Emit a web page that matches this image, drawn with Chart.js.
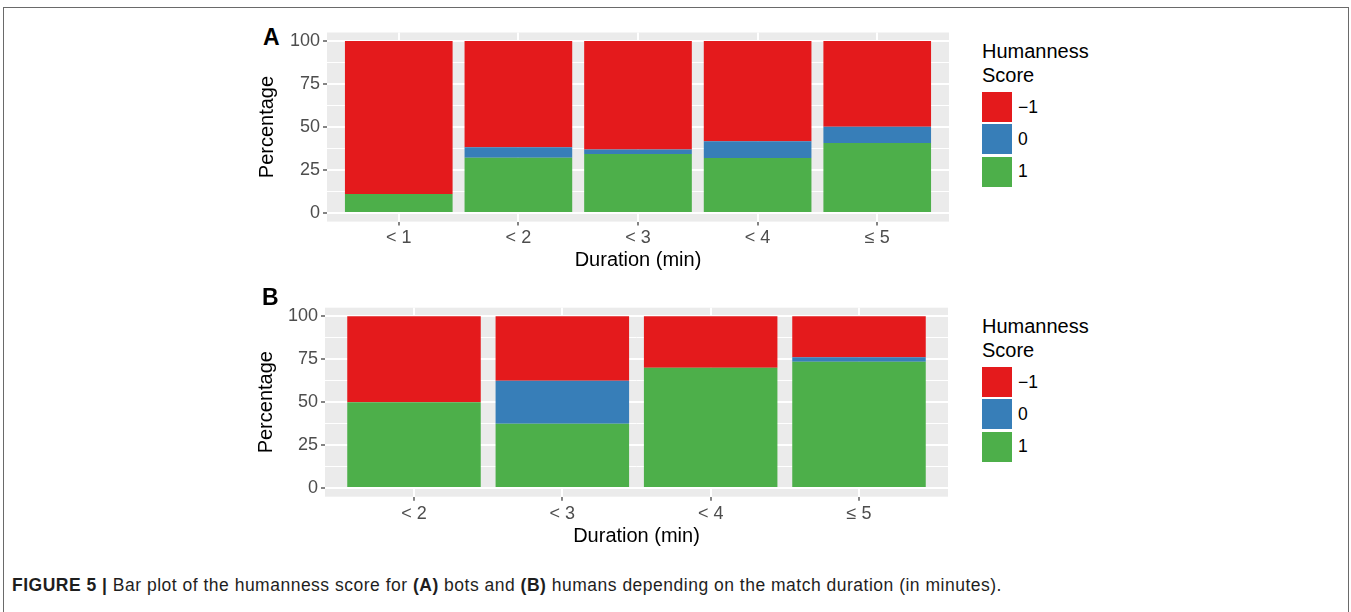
<!DOCTYPE html>
<html>
<head>
<meta charset="utf-8">
<script src="https://cdn.jsdelivr.net/npm/chart.js@4.4.1/dist/chart.umd.min.js"></script>
<style>
  html, body { margin: 0; padding: 0; background: #fff; }
  body { position: relative; width: 1351px; height: 612px; overflow: hidden;
         font-family: "Liberation Sans", Arial, Helvetica, sans-serif; }
  .frame { position: absolute; left: 3px; top: 7px; width: 1344px; height: 700px;
           border: 1px solid #6a6a6a; border-bottom: none; }
  canvas { position: absolute; }
  #chartA { left: 240px; top: 20px; }
  #chartB { left: 240px; top: 295px; }
  .tag { position: absolute; font-weight: bold; font-size: 23px; line-height: 23px; color: #000; }
  .legend { position: absolute; left: 982px; color: #000; }
  .legend .ttl { font-size: 20px; line-height: 24px; }
  .legend .keys { margin-top: 5.5px; }
  .legend .key { display: flex; align-items: center; height: 30px; margin-bottom: 2.4px; }
  .legend .swatch { display: inline-block; width: 30px; height: 30px; }
  .legend .lab { font-size: 17.5px; margin-left: 6px; }
  .caption { position: absolute; left: 12px; top: 577px; font-size: 17.5px; line-height: 17.5px;
             letter-spacing: 0.5px; color: #1e1e1e; white-space: nowrap; }
</style>
</head>
<body>
<div class="frame"></div>

<div class="tag" style="left:263px; top:26px;">A</div>
<canvas id="chartA" width="720" height="265"></canvas>
<div class="legend" id="legendA" style="top:38.5px;">
  <div class="ttl">Humanness<br>Score</div>
  <div class="keys"></div>
</div>

<div class="tag" style="left:262px; top:286px;">B</div>
<canvas id="chartB" width="720" height="265"></canvas>
<div class="legend" id="legendB" style="top:313.5px;">
  <div class="ttl">Humanness<br>Score</div>
  <div class="keys"></div>
</div>

<div class="caption"><b>FIGURE 5 |</b> Bar plot of the humanness score for <b>(A)</b> bots and <b>(B)</b> humans depending on the match duration (in minutes).</div>

<script>
// Match duration classes
const durationsBots = ['< 1', '< 2', '< 3', '< 4', '\u2264 5'];
const durationsHumans = ['< 2', '< 3', '< 4', '\u2264 5'];

// Share of matches (%) per humanness score, bots
const botsScorePos = [11.1, 32.2, 34.3, 32.0, 40.7];   // score 1
const botsScoreZero = [0, 6.0, 2.7, 9.7, 9.5];          // score 0
const botsScoreNeg = [88.9, 61.8, 63.0, 58.3, 49.8];    // score -1

// Share of matches (%) per humanness score, humans
const humansScorePos = [50, 37.5, 70, 73.6];
const humansScoreZero = [0, 25, 0, 2.6];
const humansScoreNeg = [50, 37.5, 30, 23.8];

// Legend labels, in stacking order (bottom to top)
const scoreLabels = ['1', '0', '\u22121'];
const scoreColors = ['#4DAF4A', '#377EB8', '#E41A1C'];

// Y axis breaks
const yBreaks = [0, 25, 50, 75, 100];
const yMinorBreaks = [12.5, 37.5, 62.5, 87.5];

const FONT = '"Liberation Sans", Arial, Helvetica, sans-serif';

// Grey plotting panel behind the bars
const panelBackground = {
  id: 'panelBackground',
  beforeDraw(chart, args, opts) {
    const { ctx, chartArea: a } = chart;
    ctx.save();
    ctx.fillStyle = opts.color;
    ctx.fillRect(a.left, a.top, a.right - a.left, a.bottom - a.top);
    ctx.restore();
  }
};

// Legend rendered as HTML next to each chart, built from the datasets
const htmlLegend = {
  id: 'htmlLegend',
  afterUpdate(chart, args, opts) {
    const list = document.querySelector('#' + opts.containerID + ' .keys');
    list.innerHTML = '';
    chart.data.datasets.slice().reverse().forEach(ds => {
      const row = document.createElement('div');
      row.className = 'key';
      const sw = document.createElement('span');
      sw.className = 'swatch';
      sw.style.background = ds.backgroundColor;
      const tx = document.createElement('span');
      tx.className = 'lab';
      tx.textContent = ds.label;
      row.append(sw, tx);
      list.appendChild(row);
    });
  }
};

function makeChart(canvasId, legendId, categories, series, g) {
  const gridValues = [...yBreaks, ...yMinorBreaks].sort((a, b) => a - b);
  const datasets = series.map((values, k) => ({
    label: scoreLabels[k],
    data: values.map((v, i) => ({ x: i + 1, y: v })),
    backgroundColor: scoreColors[k],
    borderWidth: 0,
    stack: 'score',
    barPercentage: 0.9,
    categoryPercentage: 1
  }));

  return new Chart(document.getElementById(canvasId), {
    type: 'bar',
    data: { datasets },
    plugins: [panelBackground, htmlLegend],
    options: {
      responsive: false,
      animation: false,
      devicePixelRatio: 1,
      layout: { padding: { left: 0, top: g.padTop, right: g.padRight, bottom: 0 } },
      plugins: {
        legend: { display: false },
        tooltip: { enabled: false },
        panelBackground: { color: '#EBEBEB' },
        htmlLegend: { containerID: legendId }
      },
      scales: {
        x: {
          type: 'linear',
          min: 0.4,
          max: categories.length + 0.6,
          offset: false,
          afterBuildTicks: s => { s.ticks = categories.map((_, i) => ({ value: i + 1 })); },
          afterFit: s => { s.height = g.xHeight; s.paddingLeft = 0; s.paddingRight = 0; },
          ticks: {
            callback: v => categories[v - 1],
            color: '#4D4D4D',
            font: { family: FONT, size: 18 },
            padding: g.xTickPad,
            maxRotation: 0,
            autoSkip: false
          },
          grid: {
            offset: false,
            color: '#FFFFFF',
            lineWidth: 2,
            tickColor: '#333333',
            tickLength: 4,
            tickWidth: 1.2
          },
          border: { display: false },
          title: {
            display: true,
            text: 'Duration (min)',
            color: '#000000',
            font: { family: FONT, size: 20 },
            padding: { top: 0, bottom: g.xTitlePad }
          }
        },
        y: {
          stacked: true,
          min: -5,
          max: 105,
          afterBuildTicks: s => { s.ticks = gridValues.map(v => ({ value: v })); },
          afterFit: s => { s.width = g.yWidth; s.paddingTop = 0; s.paddingBottom = 0; },
          ticks: {
            callback: v => (yBreaks.includes(v) ? String(v) : ''),
            color: '#4D4D4D',
            font: { family: FONT, size: 18 },
            padding: 3,
            autoSkip: false
          },
          grid: {
            color: '#FFFFFF',
            lineWidth: c => (yBreaks.includes(c.tick.value) ? 2 : 1),
            tickColor: c => (yBreaks.includes(c.tick.value) ? '#333333' : 'rgba(0,0,0,0)'),
            tickLength: 4,
            tickWidth: 1.2
          },
          border: { display: false },
          title: {
            display: true,
            text: 'Percentage',
            color: '#000000',
            font: { family: FONT, size: 20 },
            padding: { top: g.yTitlePad, bottom: 0 }
          }
        }
      }
    }
  });
}

makeChart('chartA', 'legendA', durationsBots,
  [botsScorePos, botsScoreZero, botsScoreNeg],
  { padTop: 12.5, padRight: 11, yWidth: 87, xHeight: 63.4, xTickPad: 2, xTitlePad: 13, yTitlePad: 15.5 });

makeChart('chartB', 'legendB', durationsHumans,
  [humansScorePos, humansScoreZero, humansScoreNeg],
  { padTop: 12.7, padRight: 12, yWidth: 85, xHeight: 63.3, xTickPad: 3, xTitlePad: 11.5, yTitlePad: 14.5 });
</script>
</body>
</html>
